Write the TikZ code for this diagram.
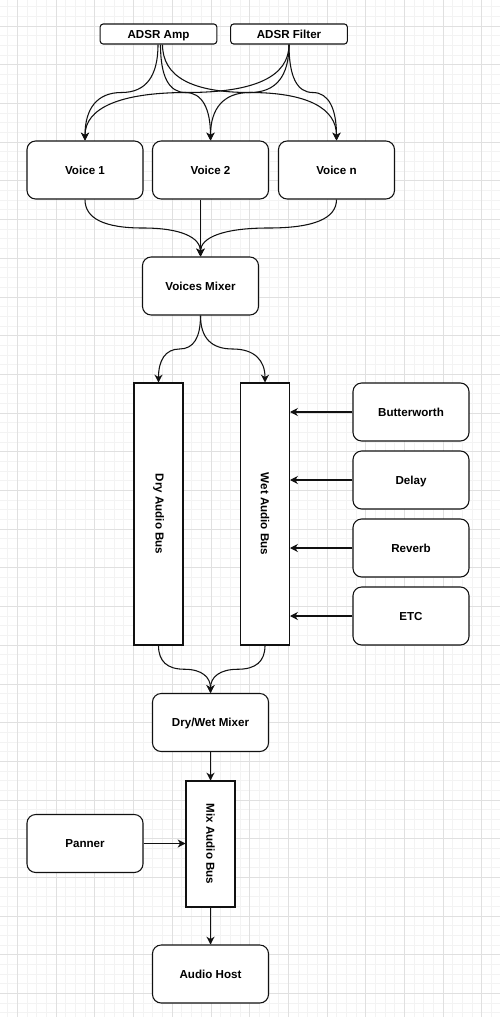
\documentclass[tikz,border=0pt]{standalone}
\usepackage{fontspec}
\setmainfont{Liberation Sans}
\usepackage{graphicx}
\usetikzlibrary{arrows.meta,calc}
\definecolor{gminor}{HTML}{F3F3F3}
\definecolor{gmajor}{HTML}{E0E0E0}
\definecolor{ink}{HTML}{111111}
\tikzset{
  lbl/.style={font=\fontsize{8.7pt}{10.4pt}\selectfont\bfseries, text=black, inner sep=0pt, align=center},
  capfix/.style={text height=6.25pt, text depth=0pt},
  rbox/.style={lbl, capfix, draw=ink, fill=white, line width=0.8pt, rounded corners=6.5pt, minimum width=87pt, minimum height=43.5pt},
  abox/.style={lbl, capfix, draw=ink, fill=white, line width=0.8pt, rounded corners=2.25pt, minimum width=87.5pt, minimum height=15pt},
  bus/.style={lbl, draw=ink, fill=white, line width=0.8pt, minimum width=36.75pt, minimum height=196.5pt},
  conn/.style={draw=ink, line width=0.8pt, -{Stealth[length=5.8pt,width=6pt,inset=1.7pt]}},
  curvy/.style={to path={let \p1=(\tikztostart), \p2=(\tikztotarget) in
     .. controls (\x1,{\y1+(\y2-\y1)/3}) and ({(5*\x1+\x2)/6},{(\y1+\y2)/2})
     .. ({(\x1+\x2)/2},{(\y1+\y2)/2})
     .. controls ({(\x1+5*\x2)/6},{(\y1+\y2)/2}) and (\x2,{\y2-(\y2-\y1)/3})
     .. (\tikztotarget)}},
  gridmin/.style={draw=gminor, line width=0.75pt},
  gridmaj/.style={draw=gmajor, line width=0.75pt}
}
\begin{document}
\begin{tikzpicture}[x=0.75pt,y=-0.75pt]
\useasboundingbox (0,0) rectangle (500,1017);
\fill[white] (0,0) rectangle (500,1017);
% grid
\foreach \i in {0,...,50} \draw[gridmin] ({7.825+9.675*\i},0) -- ({7.825+9.675*\i},1017);
\foreach \i in {0,...,104} \draw[gridmin] (0,{6.75+9.675*\i}) -- (500,{6.75+9.675*\i});
\foreach \i in {0,...,12} \draw[gridmaj] ({17.5+38.7*\i},0) -- ({17.5+38.7*\i},1017);
\foreach \i in {0,...,25} \draw[gridmaj] (0,{26.1+38.7*\i}) -- (500,{26.1+38.7*\i});

% nodes
\node[abox] (amp) at (158.5,34) {ADSR Amp};
\node[abox] (filt) at (289,34) {ADSR Filter};
\node[rbox] (v1) at (85,170) {Voice 1};
\node[rbox] (v2) at (210.5,170) {Voice 2};
\node[rbox] (vn) at (336.5,170) {Voice n};
\node[rbox] (vmix) at (200.5,286) {Voices Mixer};
\node[bus] (dry) at (158.5,514) {\rotatebox{-90}{Dry Audio Bus}};
\node[bus] (wet) at (265,514) {\rotatebox{-90}{Wet Audio Bus}};
\node[rbox] (bw) at (411,412) {Butterworth};
\node[rbox] (delay) at (411,480) {Delay};
\node[rbox] (rev) at (411,548) {Reverb};
\node[rbox] (etc) at (411,616) {ETC};
\node[rbox] (dwm) at (210.5,722.5) {Dry/Wet Mixer};
\node[bus, minimum height=94.5pt] (mixbus) at (210.5,844) {\rotatebox{-90}{Mix Audio Bus}};
\node[rbox] (pan) at (85,843.5) {Panner};
\node[rbox] (host) at (210.5,974) {Audio Host};

% envelopes to voices
\draw[conn] ($(amp.south)+(-0.5,0)$) to[curvy] (v1.north);
\draw[conn] ($(amp.south)+(2,0)$) to[curvy] (v2.north);
\draw[conn] ($(amp.south)+(4,0)$) to[curvy] (vn.north);
\draw[conn] (filt.south) to[curvy] (v1.north);
\draw[conn] (filt.south) to[curvy] (v2.north);
\draw[conn] (filt.south) to[curvy] (vn.north);

% voices to mixer
\draw[conn] (v1.south) to[curvy] (vmix.north);
\draw[conn] (v2.south -| vmix.north) -- (vmix.north);
\draw[conn] (vn.south) to[curvy] (vmix.north);

% mixer to buses
\draw[conn] (vmix.south) to[curvy] (dry.north);
\draw[conn] (vmix.south) to[curvy] (wet.north);

% effects to wet bus
\draw[conn] (bw.west) -- (bw.west -| wet.east);
\draw[conn] (delay.west) -- (delay.west -| wet.east);
\draw[conn] (rev.west) -- (rev.west -| wet.east);
\draw[conn] (etc.west) -- (etc.west -| wet.east);

% buses to dry/wet mixer
\draw[conn] (dry.south) to[curvy] (dwm.north);
\draw[conn] (wet.south) to[curvy] (dwm.north);

% output chain
\draw[conn] (dwm.south) -- (mixbus.north);
\draw[conn] (pan.east) -- (pan.east -| mixbus.west);
\draw[conn] (mixbus.south) -- (host.north);
\end{tikzpicture}
\end{document}
